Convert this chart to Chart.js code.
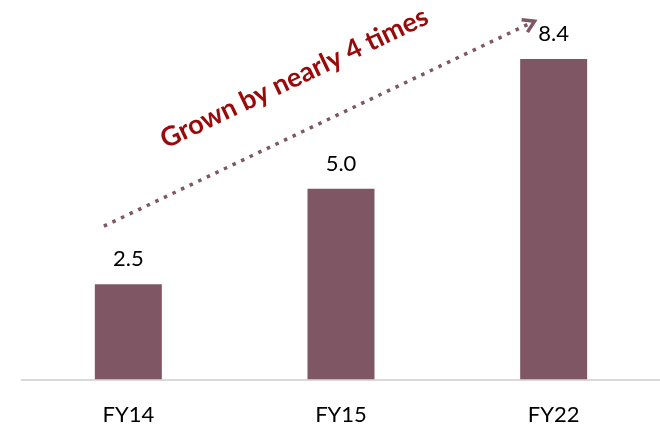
<!DOCTYPE html>
<html>
<head>
<meta charset="utf-8">
<script src="https://cdn.jsdelivr.net/npm/chart.js@4/dist/chart.umd.min.js"></script>
<style>
html,body{margin:0;padding:0;background:#fff;}
#wrap{width:660px;height:429px;position:relative;}
</style>
</head>
<body>
<div id="wrap"><canvas id="c"></canvas></div>
<script>
const categories = ["FY14", "FY15", "FY22"];
const values = [2.5, 5.0, 8.4];
const valueLabels = ["2.5", "5.0", "8.4"];
const annotationText = "Grown by nearly 4 times";
// arrow anchor points in data space: [category index, value]
const arrowStart = [-0.115, 4.02];
const arrowEnd = [1.91, 9.39];
const textAnchor = [0.78, 7.9];

const barColor = "#7f5664";
const textRed = "#990a0a";

const overlay = {
  id: "overlay",
  afterDatasetsDraw(chart) {
    const ctx = chart.ctx;
    const xs = chart.scales.x, ys = chart.scales.y;
    const meta = chart.getDatasetMeta(0);
    ctx.save();
    // value labels
    ctx.fillStyle = "#000";
    ctx.font = "22px Lato";
    ctx.textAlign = "center";
    ctx.textBaseline = "alphabetic";
    meta.data.forEach((bar, i) => {
      ctx.fillText(valueLabels[i], bar.x, bar.y - 18);
    });
    // dotted arrow
    const x0 = xs.getPixelForValue(arrowStart[0]), y0 = ys.getPixelForValue(arrowStart[1]);
    const x1 = xs.getPixelForValue(arrowEnd[0]), y1 = ys.getPixelForValue(arrowEnd[1]);
    const ang = Math.atan2(y1 - y0, x1 - x0);
    ctx.strokeStyle = barColor;
    ctx.lineWidth = 3.5;
    ctx.setLineDash([3.5, 6]);
    ctx.lineCap = "butt";
    ctx.beginPath();
    ctx.moveTo(x0, y0);
    ctx.lineTo(x1 - 3 * Math.cos(ang), y1 - 3 * Math.sin(ang));
    ctx.stroke();
    ctx.setLineDash([]);
    ctx.lineWidth = 3.5;
    ctx.lineJoin = "miter";
    const L = 13, a = 0.55;
    ctx.beginPath();
    ctx.moveTo(x1 - L * Math.cos(ang - a), y1 - L * Math.sin(ang - a));
    ctx.lineTo(x1, y1);
    ctx.lineTo(x1 - L * Math.cos(ang + a), y1 - L * Math.sin(ang + a));
    ctx.stroke();
    // annotation text
    const tx = xs.getPixelForValue(textAnchor[0]), ty = ys.getPixelForValue(textAnchor[1]);
    ctx.translate(tx, ty);
    ctx.rotate(ang);
    ctx.fillStyle = textRed;
    ctx.font = "bold 27px Lato";
    ctx.textAlign = "center";
    ctx.textBaseline = "middle";
    ctx.fillText(annotationText, 0, 0);
    ctx.restore();
  }
};

new Chart(document.getElementById("c"), {
  type: "bar",
  data: {
    labels: categories,
    datasets: [{
      data: values,
      backgroundColor: barColor,
      categoryPercentage: 1,
      barPercentage: 0.315
    }]
  },
  options: {
    responsive: true,
    maintainAspectRatio: false,
    animation: false,
    layout: { padding: { left: 22, right: 0, top: 17, bottom: -21 } },
    plugins: { legend: { display: false }, tooltip: { enabled: false } },
    scales: {
      x: {
        grid: { display: false, drawTicks: false },
        border: { display: true, color: "#d9d9d9", width: 2 },
        ticks: { color: "#000", font: { family: "Lato", size: 22 }, padding: 22 }
      },
      y: {
        display: false,
        min: 0,
        max: 9.5
      }
    }
  },
  plugins: [overlay]
});
</script>
</body>
</html>
